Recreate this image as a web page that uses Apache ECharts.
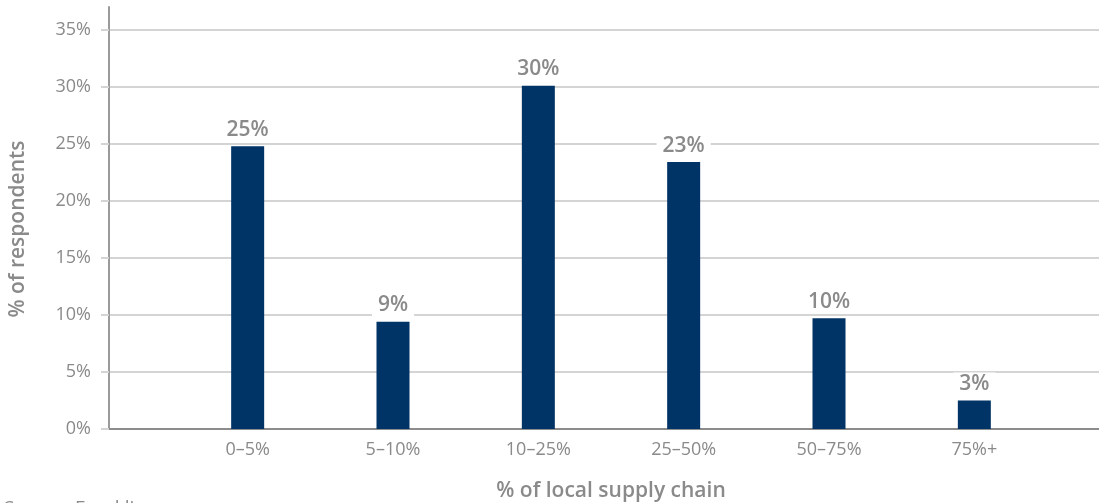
<!DOCTYPE html>
<html>
<head>
<meta charset="utf-8">
<script src="https://cdn.jsdelivr.net/npm/echarts@6/dist/echarts.min.js"></script>
<style>
  html, body { margin: 0; padding: 0; background: #fff; }
  #chart { width: 1099px; height: 503px; }
</style>
</head>
<body>
<div id="chart"></div>
<script>
// Share of local supply chain, by share of respondents
const categories = ['0–5%', '5–10%', '10–25%', '25–50%', '50–75%', '75%+'];
const respondents = [24.8, 9.4, 30.1, 23.4, 9.7, 2.5];
const yTicks = [0, 5, 10, 15, 20, 25, 30, 35];

const GREY = '#8a8a8a';
const FONT = '"Open Sans", "Noto Sans", sans-serif';

const chart = echarts.init(document.getElementById('chart'));
chart.setOption({
  animation: false,
  backgroundColor: '#fff',
  grid: [
    // bars and category labels
    { left: 175, right: 52, top: 7, bottom: 74, outerBoundsMode: 'none' },
    // value scale, gridlines and the left axis line
    { left: 109, right: 0, top: 7, bottom: 74, outerBoundsMode: 'none' }
  ],
  xAxis: [
    {
      type: 'category', gridIndex: 0, data: categories,
      name: '% of local supply chain', nameLocation: 'middle', nameGap: 52,
      nameTextStyle: { color: GREY, fontFamily: FONT, fontSize: 21, fontWeight: 600 },
      axisLine: { show: false }, axisTick: { show: false },
      axisLabel: { color: GREY, fontFamily: FONT, fontSize: 18, margin: 12 }
    },
    {
      type: 'value', gridIndex: 1, show: false, min: 0, max: 1
    }
  ],
  yAxis: [
    {
      type: 'value', gridIndex: 0, min: 0, max: 37, show: false
    },
    {
      type: 'value', gridIndex: 1, min: 0, max: 37, interval: 5,
      axisLine: { show: true, lineStyle: { color: '#9a9a9a', width: 2 } },
      axisTick: { show: true, length: 8, lineStyle: { color: '#d4d4d4', width: 2 } },
      axisLabel: {
        color: GREY, fontFamily: FONT, fontSize: 18, margin: 18, showMaxLabel: false,
        formatter: v => (yTicks.includes(v) ? v + '%' : '')
      },
      splitLine: { show: true, showMaxLine: false, lineStyle: { color: '#d4d4d4', width: 2 } }
    }
  ],
  series: [
    {
      // x axis base line across the full plot width
      type: 'line', xAxisIndex: 1, yAxisIndex: 1,
      data: [[0, 0], [1, 0]], symbol: 'none', silent: true,
      lineStyle: { color: '#8c8c8c', width: 2 }, z: 1
    },
    {
      type: 'bar', xAxisIndex: 0, yAxisIndex: 0,
      data: respondents, barWidth: 33, z: 3,
      itemStyle: { color: '#003366' },
      label: {
        show: true, position: 'top', distance: 5,
        formatter: p => Math.round(p.value) + '%',
        color: GREY, fontFamily: FONT, fontSize: 21, fontWeight: 600,
        backgroundColor: '#fff', padding: [1, 6]
      }
    }
  ],
  graphic: [
    {
      type: 'text', x: 18, y: 229, rotation: Math.PI / 2,
      style: {
        text: '% of respondents', fill: GREY, font: '600 21px ' + FONT,
        textAlign: 'center', textVerticalAlign: 'middle'
      }
    },
    {
      type: 'text', x: 4, y: 499,
      style: { text: 'Source: Franklin', fill: GREY, font: '19px ' + FONT, textVerticalAlign: 'top' }
    }
  ]
});
</script>
</body>
</html>
